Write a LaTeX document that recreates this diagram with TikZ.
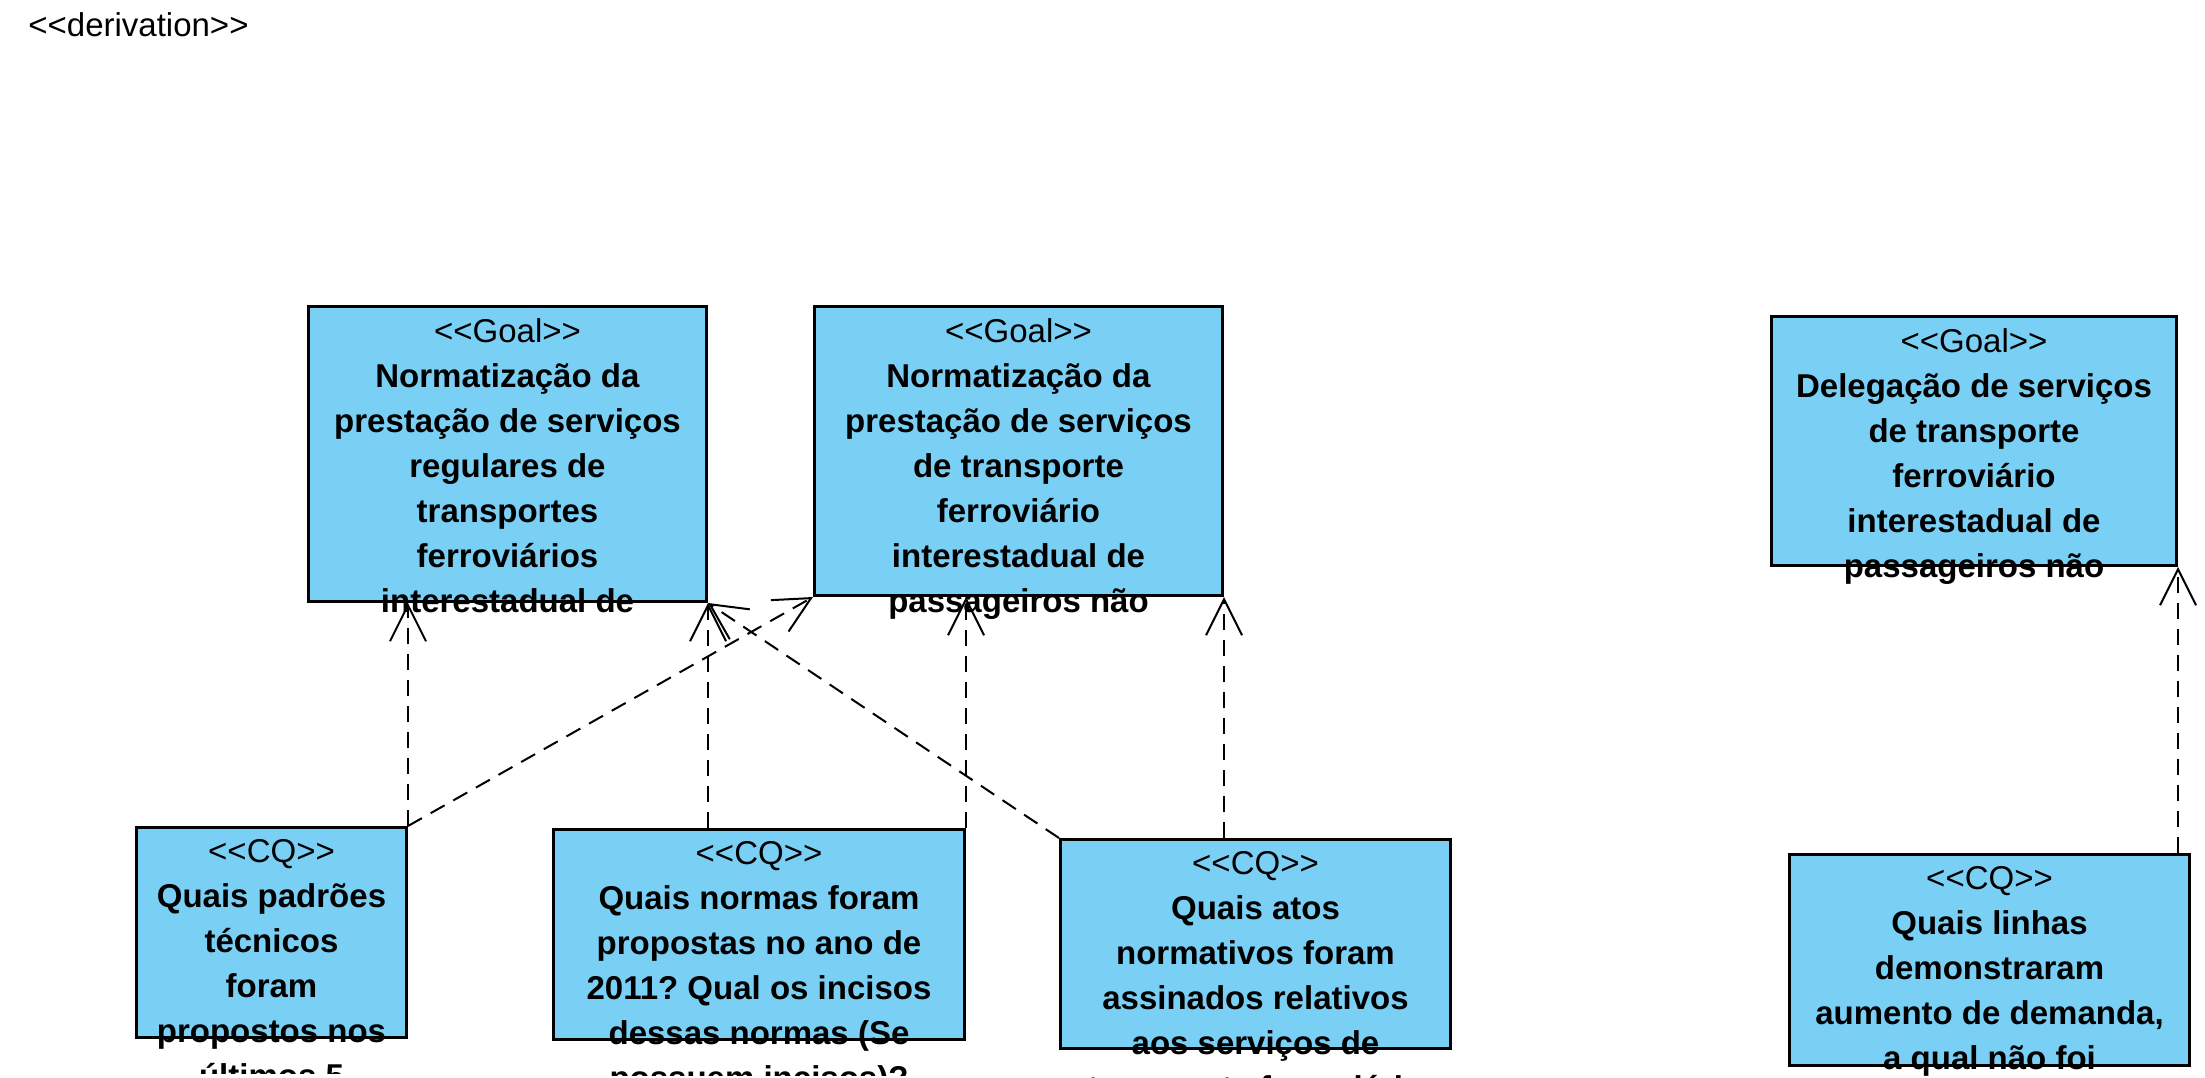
\documentclass[tikz,border=0pt]{standalone}
\usepackage{fontspec}
\setmainfont{Liberation Sans}
\usepackage{tikz}
\usetikzlibrary{arrows.meta,positioning,calc}
\definecolor{goalblue}{RGB}{122,207,245}
\newcommand{\stereo}[1]{<\kern0pt<#1>\kern0pt>}
\frenchspacing

\begin{document}
\begin{tikzpicture}[x=0.5pt, y=-0.5pt, >={Straight Barb[length=18pt,width=18pt]},
    box/.style={draw=black, line width=1.5pt, fill=goalblue, anchor=north west, inner sep=0pt},
    boxtext/.style={anchor=north, align=center, inner sep=0pt, font=\fontsize{16.5}{22.5}\selectfont},
    dep/.style={line width=1pt, dash pattern=on 8pt off 5pt, ->}]
 			\useasboundingbox (0,0) rectangle (2205,1077);

 			\path 
 			(307,305)  coordinate (g1)
 			(813,305)  coordinate (g2)
 			(1770,315) coordinate (g3)
 			(135,826)  coordinate (q1)
 			(552,828)  coordinate (q2)
 			(1059,838) coordinate (q3)
 			(1788,853) coordinate (q4)
 			;

 			% goals
 			\node[box, minimum width=199pt, minimum height=147.5pt] (goal1) at (g1) {};
 			\node[box, minimum width=204pt, minimum height=144.5pt] (goal2) at (g2) {};
 			\node[box, minimum width=202.5pt, minimum height=124.5pt] (goal3) at (g3) {};
 			% competency questions
 			\node[box, minimum width=135pt, minimum height=105pt] (cq1) at (q1) {};
 			\node[box, minimum width=205.5pt, minimum height=105pt] (cq2) at (q2) {};
 			\node[box, minimum width=195pt, minimum height=104.5pt] (cq3) at (q3) {};
 			\node[box, minimum width=200pt, minimum height=105.5pt] (cq4) at (q4) {};

 			\node[boxtext] (goal1txt) at ([yshift=-6.5pt]goal1.north) {\stereo{Goal}\\ \textbf{Normatização da}\\ \textbf{prestação de serviços}\\ \textbf{regulares de}\\ \textbf{transportes}\\ \textbf{ferroviários}\\ \textbf{interestadual de}};
 			\node[boxtext] (goal2txt) at ([yshift=-6.5pt]goal2.north) {\stereo{Goal}\\ \textbf{Normatização da}\\ \textbf{prestação de serviços}\\ \textbf{de transporte}\\ \textbf{ferroviário}\\ \textbf{interestadual de}\\ \textbf{passageiros não}};
 			\node[boxtext] (goal3txt) at ([yshift=-6.5pt]goal3.north) {\stereo{Goal}\\ \textbf{Delegação de serviços}\\ \textbf{de transporte}\\ \textbf{ferroviário}\\ \textbf{interestadual de}\\ \textbf{passageiros não}};

 			% question texts run past their boxes and get cut
 			\begin{scope}
 			\clip ([xshift=-40pt]cq1.north west) rectangle ([xshift=40pt,yshift=-17pt]cq1.south east);
 			\node[boxtext] (cq1txt) at ([yshift=-6.5pt]cq1.north) {\stereo{CQ}\\ \textbf{Quais padrões}\\ \textbf{técnicos}\\ \textbf{foram}\\ \textbf{propostos nos}\\ \textbf{últimos 5}};
 			\end{scope}
 			\begin{scope}
 			\clip ([xshift=-40pt]cq2.north west) rectangle ([xshift=40pt,yshift=-17pt]cq2.south east);
 			\node[boxtext] (cq2txt) at ([yshift=-6.5pt]cq2.north) {\stereo{CQ}\\ \textbf{Quais normas foram}\\ \textbf{propostas no ano de}\\ \textbf{2011? Qual os incisos}\\ \textbf{dessas normas (Se}\\ \textbf{possuem incisos)?}};
 			\end{scope}
 			\begin{scope}
 			\clip ([xshift=-40pt]cq3.north west) rectangle ([xshift=40pt,yshift=-17pt]cq3.south east);
 			\node[boxtext] (cq3txt) at ([yshift=-6.5pt]cq3.north) {\stereo{CQ}\\ \textbf{Quais atos}\\ \textbf{normativos foram}\\ \textbf{assinados relativos}\\ \textbf{aos serviços de}\\ \textbf{transporte ferroviário}};
 			\end{scope}
 			\begin{scope}
 			\clip ([xshift=-40pt]cq4.north west) rectangle ([xshift=40pt,yshift=-17pt]cq4.south east);
 			\node[boxtext] (cq4txt) at ([yshift=-6.5pt]cq4.north) {\stereo{CQ}\\ \textbf{Quais linhas}\\ \textbf{demonstraram}\\ \textbf{aumento de demanda,}\\ \textbf{a qual não foi}};
 			\end{scope}

 			\node[anchor=west, inner sep=0pt, font=\fontsize{16.5}{22.5}\selectfont] (derivlabel) at (28,25) {\stereo{derivation}};

 			% derivation dependencies
 			\draw[dep] (cq1.north east) to (cq1.north east |- goal1.south);
 			\draw[dep] (cq1.north east) to (goal2.south west);
 			\draw[dep] (goal1.south east |- cq2.north) to (goal1.south east);
 			\draw[dep] (cq2.north east) to (cq2.north east |- goal2.south);
 			\draw[dep] (cq3.north west) to (goal1.south east);
 			\draw[dep] (goal2.south east |- cq3.north) to (goal2.south east);
 			\draw[dep] (goal3.south east |- cq4.north) to (goal3.south east);
\end{tikzpicture}
\end{document}
